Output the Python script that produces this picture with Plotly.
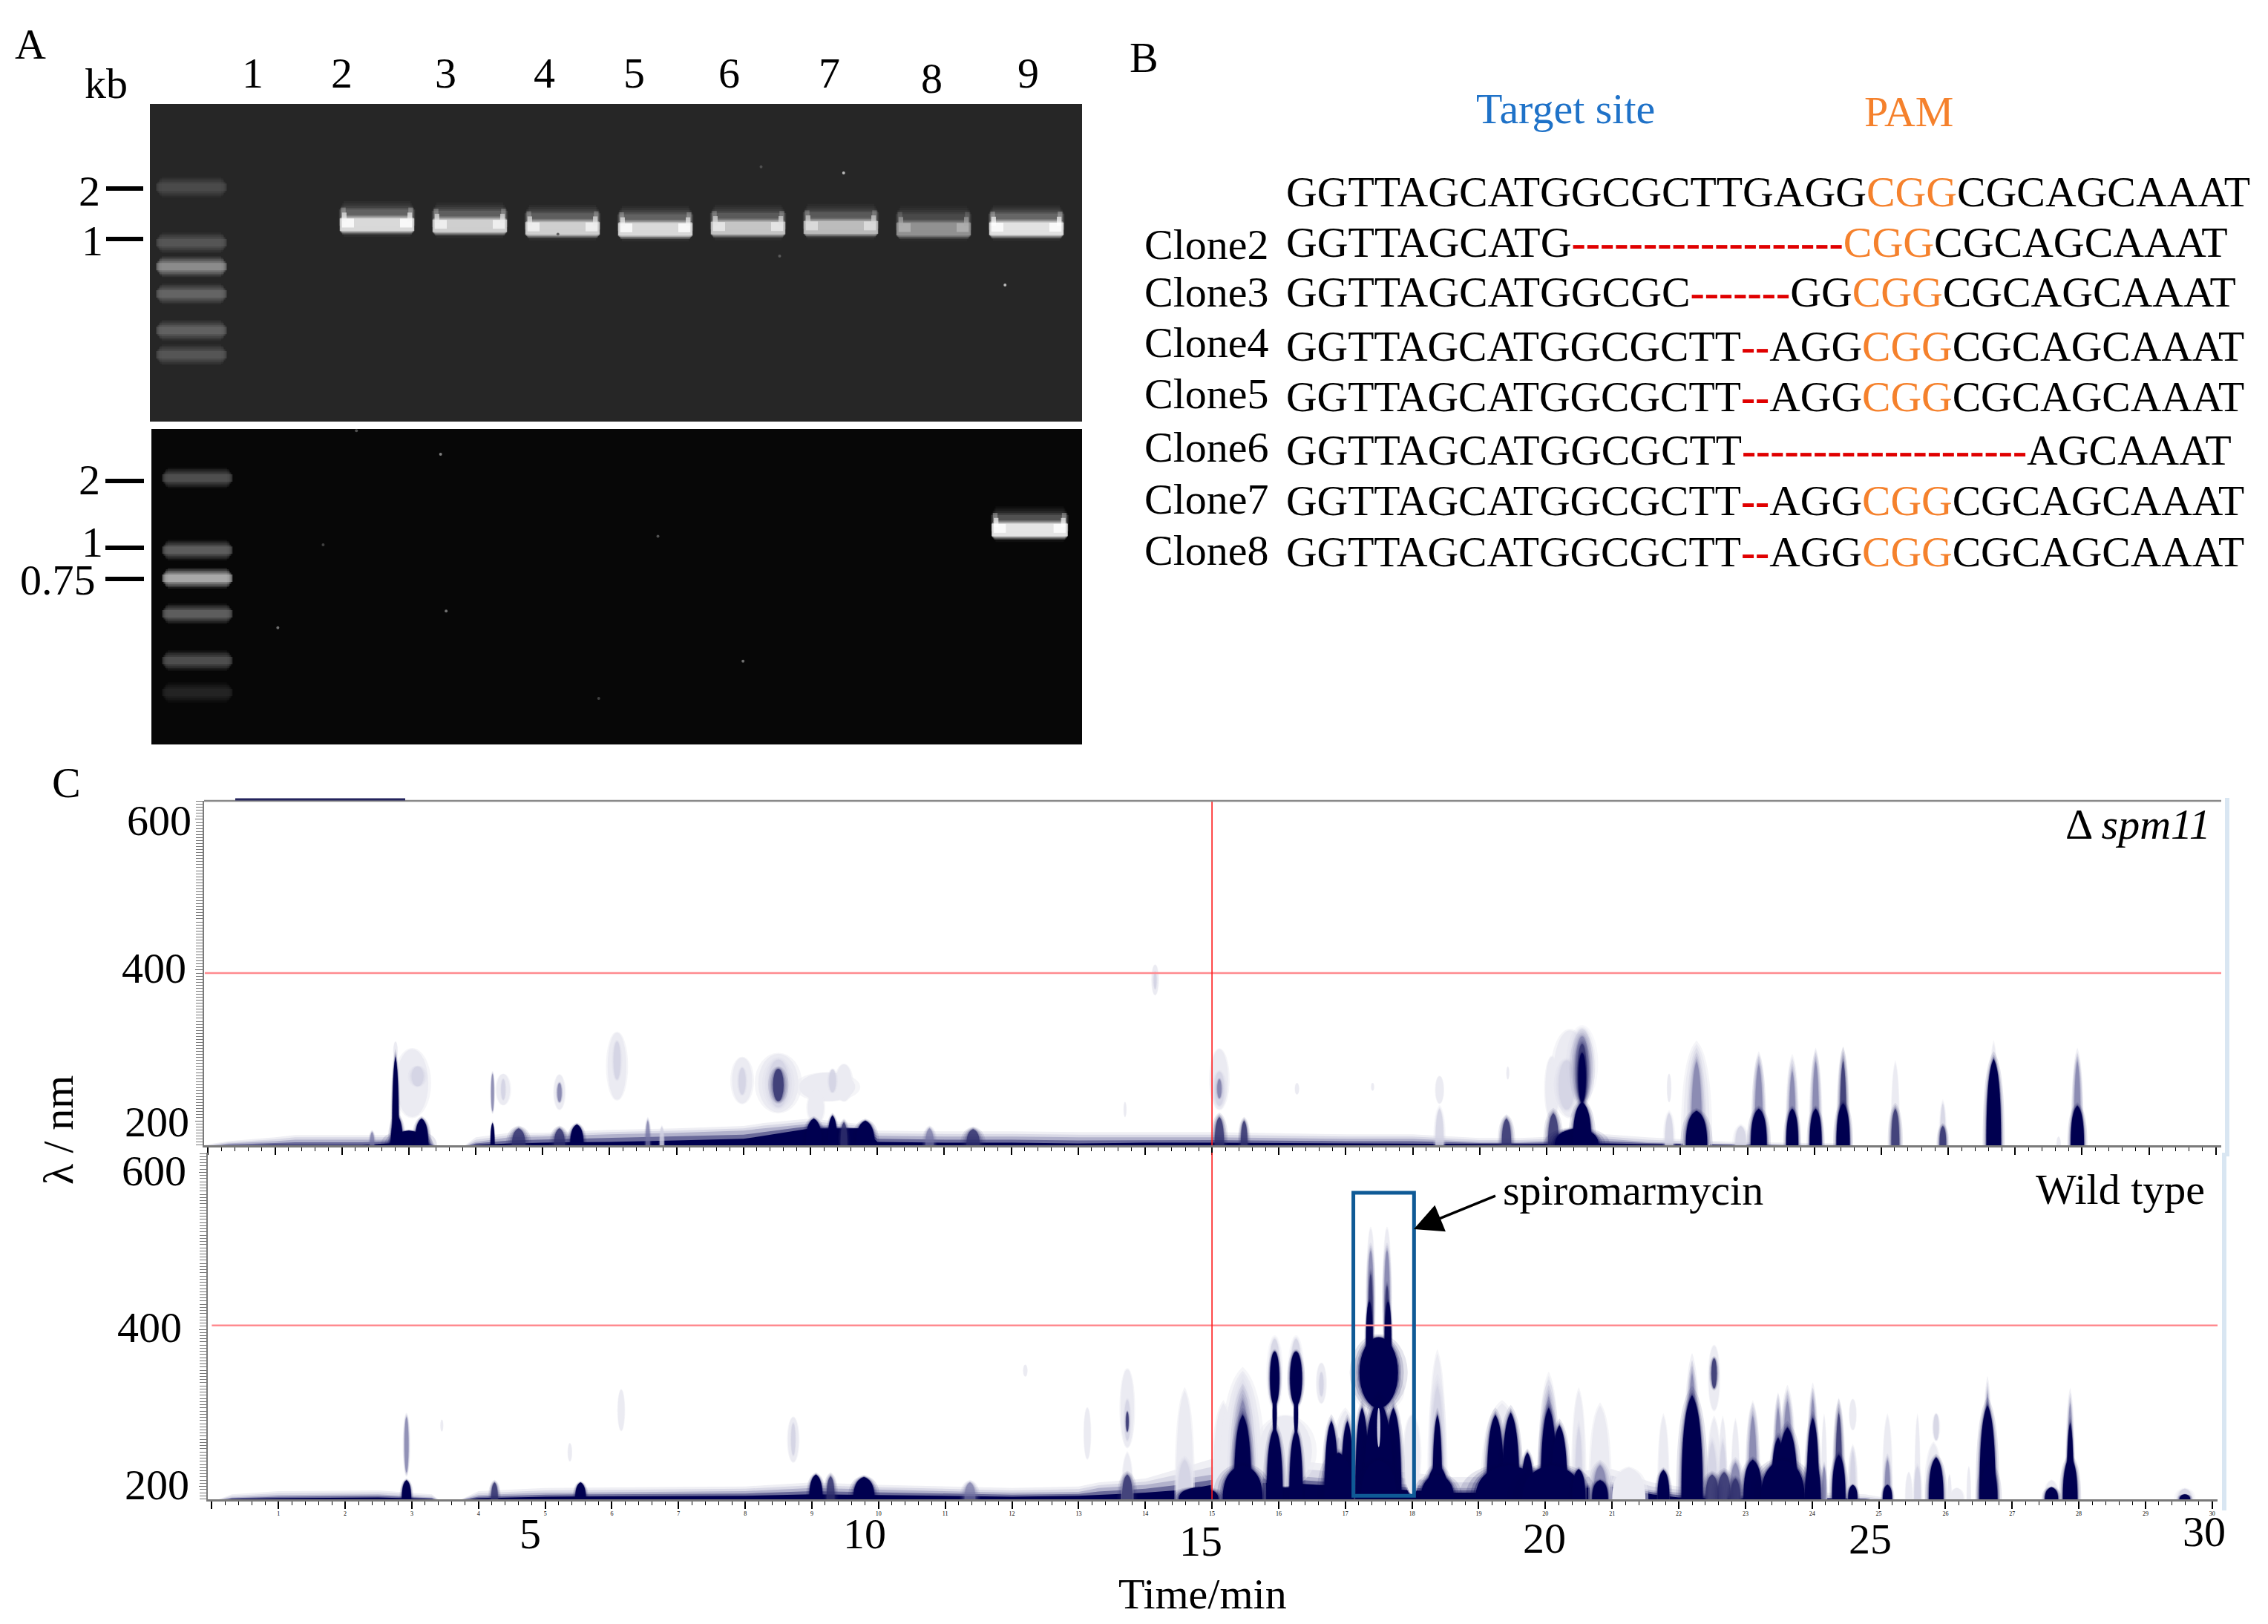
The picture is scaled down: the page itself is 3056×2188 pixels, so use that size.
import plotly.graph_objects as go

W, H = 3056, 2188
SERIF = "Liberation Serif"

# ---------- Panel A data ----------
lanes = [2, 3, 4, 5, 6, 7, 8, 9]
band_pos = [38.0, 38.4, 39.2, 39.5, 39.1, 38.9, 39.4, 39.3]
band_level = [225, 215, 215, 225, 205, 195, 150, 235]
ladder_top_pos = [26.2, 43.7, 51.2, 59.8, 71.3, 79.0]
ladder_top_level = [85, 100, 170, 120, 115, 100]
ladder_low_pos = [15.5, 38.4, 47.3, 58.6, 73.4, 83.5]
ladder_low_level = [100, 120, 215, 120, 100, 45]
low_band_lane = [9]
low_band_pos = [32.0]
low_band_level = [240]
top_ticks_pos = [26.6, 42.5]
top_ticks_text = ["2", "1"]
low_ticks_pos = [16.5, 37.6, 47.5]
low_ticks_text = ["2", "1", "0.75"]
top_speck_lane = [7.03, 8.77, 6.34, 6.14, 3.95]
top_speck_pos = [21.7, 57.0, 47.9, 19.8, 41.0]
top_speck_grey = ["#b8b8b8", "#b8b8b8", "#5a5a5a", "#505050", "#606060"]
low_speck_lane = [2.63, 0.87, 2.69, 5.90, 4.98, 1.36, 4.34, 1.72]
low_speck_pos = [8.0, 63.0, 57.7, 73.6, 34.0, 36.7, 85.4, 0.5]
low_speck_grey = ["#808080", "#707070", "#707070", "#707070", "#505050", "#404040", "#404040", "#505050"]
lane_labels = ["1", "2", "3", "4", "5", "6", "7", "8", "9"]

# ---------- Panel B data ----------
seq_rows = [
    ("", "GGTTAGCATGGCGCTTGAGG", 0, "CGG", "CGCAGCAAAT"),
    ("Clone2", "GGTTAGCATG", 19, "CGG", "CGCAGCAAAT"),
    ("Clone3", "GGTTAGCATGGCGC|GG", 7, "CGG", "CGCAGCAAAT"),
    ("Clone4", "GGTTAGCATGGCGCTT|AGG", 2, "CGG", "CGCAGCAAAT"),
    ("Clone5", "GGTTAGCATGGCGCTT|AGG", 2, "CGG", "CGCAGCAAAT"),
    ("Clone6", "GGTTAGCATGGCGCTT", 20, "", "AGCAAAT"),
    ("Clone7", "GGTTAGCATGGCGCTT|AGG", 2, "CGG", "CGCAGCAAAT"),
    ("Clone8", "GGTTAGCATGGCGCTT|AGG", 2, "CGG", "CGCAGCAAAT"),
]

# ---------- Panel C data: baseline band (time, lambda at three densities) ----------
top_base_t = [-0.05, 0.3, 1.0, 1.3, 2.3, 2.7, 3.3, 3.42, 3.8, 4.0, 4.5, 5.0, 6.0, 7.0, 8.0, 8.3, 9.0, 9.8, 10.0,
              11, 12, 13, 14, 15, 17, 18, 19, 19.6, 20.9, 21.5, 22.8, 24.4, 24.6, 30.1]
top_base_light = [168, 173, 178, 181, 181, 181, 178, 165, 165, 178, 184, 184, 188, 190, 193, 197, 203, 195, 187,
                  186, 186, 185, 185, 185, 182, 182, 177, 177, 182, 178, 172, 170, 165, 165]
top_base_mid = [166, 170, 173, 175, 175, 175, 172, 165, 165, 172, 178, 179, 182, 184, 187, 190, 196, 190, 180,
                179, 179, 178, 178, 178, 176, 176, 172, 172, 176, 172, 168, 167, 165, 165]
top_base_dark = [165, 167, 168, 168, 168, 170, 168, 165, 165, 168, 170, 171, 172, 174, 176, 180, 190, 190, 172,
                 171, 171, 170, 171, 171, 170, 170, 169, 169, 170, 169, 168, 167, 165, 165]

low_base_t = [0.05, 0.3, 1.0, 2.5, 3.3, 3.42, 3.7, 4.0, 5.0, 8.0, 9.0, 10.0, 12.0, 13.0, 13.3, 14.0, 14.6, 15.0,
              16.0, 18.6, 19.0, 21.0, 21.6, 22.0, 24.8, 25.2, 30.1]
low_base_light = [182, 190, 194, 195, 190, 182, 182, 194, 198, 200, 205, 202, 198, 200, 205, 210, 225, 235,
                  235, 212, 212, 222, 205, 200, 190, 184, 182]
low_base_mid = [182, 186, 189, 190, 186, 182, 182, 189, 192, 194, 198, 196, 192, 193, 198, 202, 210, 215,
                215, 198, 198, 205, 195, 192, 184, 182, 182]
low_base_dark = [182, 184, 185, 186, 184, 182, 182, 185, 187, 188, 190, 189, 187, 188, 189, 192, 196, 202,
                 205, 192, 192, 200, 190, 186, 184, 182, 182]

# Peaks: time, half width (min), lambda low (None = rises from the baseline), lambda high, density 0-4
top_peaks = [
    (2.45, .03, None, 185, 2), (2.80, .05, None, 285, 4), (2.82, .09, None, 207, 4), (3.0, .28, None, 187, 4),
    (3.19, .10, None, 203, 4), (3.05, .24, 205, 295, 0), (3.13, .09, 246, 272, 1), (2.80, .03, 280, 305, 0),
    (4.25, .03, None, 197, 4), (4.25, .02, 213, 262, 2), (4.41, .10, 221, 262, 0), (4.41, .03, 228, 255, 1),
    (4.64, .10, None, 190, 3), (5.25, .08, 215, 261, 0), (5.25, .03, 225, 250, 2), (5.25, .08, None, 190, 3),
    (5.51, .10, None, 195, 4), (6.11, .14, 228, 317, 0), (6.11, .05, 255, 305, 1), (6.57, .03, None, 200, 2),
    (6.78, .03, None, 192, 1), (7.98, .15, 223, 284, 0), (7.98, .05, 235, 270, 1), (8.52, .30, 211, 289, 0),
    (8.52, .15, 218, 281, 1), (8.52, .08, 226, 269, 3), (9.25, .42, 226, 264, 0), (9.08, .12, 195, 240, 0),
    (9.33, .05, 238, 268, 1), (9.50, .12, 226, 275, 0), (9.05, .12, None, 203, 4), (9.33, .07, None, 207, 4),
    (9.50, .05, None, 198, 3), (9.82, .14, None, 200, 4), (10.78, .06, None, 190, 2), (11.43, .10, None, 189, 3),
    (13.70, .02, 205, 225, 0), (14.15, .05, 367, 407, 0), (14.15, .02, 375, 398, 1),
    (15.11, .13, 215, 295, 0), (15.11, .07, 220, 265, 1), (15.11, .03, 230, 255, 2), (15.11, .07, None, 205, 3),
    (15.48, .05, None, 200, 3), (16.27, .03, 235, 250, 0), (17.4, .02, 240, 250, 0),
    (18.40, .06, 223, 259, 0), (18.40, .06, None, 216, 1), (19.40, .07, None, 203, 3), (19.42, .02, 255, 272, 0),
    (20.08, .10, 200, 285, 0), (20.35, .25, 205, 320, 0), (20.30, .12, 215, 280, 1), (20.53, .15, 230, 322, 1),
    (20.53, .10, 225, 312, 2), (20.53, .07, 223, 302, 3), (20.53, .055, 225, 290, 4),
    (20.10, .08, None, 210, 3), (20.45, .33, None, 190, 4), (20.53, .14, None, 225, 4),
    (21.83, .03, 225, 262, 0), (21.83, .06, None, 210, 1), (22.24, .20, None, 302, 0), (22.24, .08, None, 279, 2),
    (22.24, .16, None, 213, 4), (22.90, .08, None, 193, 1),
    (23.17, .10, None, 285, 0), (23.17, .06, None, 275, 2), (23.17, .12, None, 216, 4),
    (23.67, .09, None, 285, 0), (23.67, .05, None, 266, 2), (23.67, .09, None, 216, 4),
    (24.02, .09, None, 290, 0), (24.02, .05, None, 279, 2), (24.02, .09, None, 216, 4),
    (24.43, .09, None, 295, 0), (24.43, .05, None, 280, 3), (24.43, .10, None, 223, 4),
    (25.21, .06, None, 277, 0), (25.21, .06, None, 216, 3), (25.92, .04, None, 223, 1), (25.92, .05, None, 193, 3),
    (26.68, .07, None, 303, 0), (26.68, .11, None, 282, 4), (27.65, .03, None, 179, 0),
    (27.93, .08, None, 285, 0), (27.93, .05, None, 279, 2), (27.93, .10, None, 220, 4),
]

low_peaks = [
    (2.92, .03, 218, 288, 2), (2.92, .07, None, 208, 4), (3.45, .02, 270, 285, 0), (4.24, .05, None, 205, 3),
    (5.37, .03, 232, 255, 0), (5.53, .08, None, 205, 4), (6.14, .05, 271, 323, 0), (8.72, .08, 231, 288, 0),
    (8.72, .03, 240, 280, 1), (9.06, .10, None, 215, 4), (9.28, .06, None, 213, 3), (9.78, .16, None, 212, 4),
    (11.37, .08, None, 205, 2), (12.20, .03, 340, 355, 0), (13.13, .05, 235, 300, 0),
    (13.73, .10, 250, 349, 0), (13.73, .04, 259, 310, 1), (13.73, .02, 270, 295, 3), (13.73, .08, None, 243, 0),
    (13.73, .08, None, 215, 3),
    (14.59, .13, None, 322, 0), (14.59, .10, None, 234, 1), (14.8, .3, None, 199, 4),
    (15.17, .16, None, 306, 0), (15.46, .30, None, 347, 0), (15.46, .15, None, 328, 1), (15.46, .11, None, 310, 2),
    (15.46, .13, None, 291, 4), (15.46, .30, None, 227, 4),
    (16.10, .40, 200, 290, 0), (15.94, .08, 300, 388, 1), (15.94, .07, 303, 372, 4), (15.94, .03, 265, 320, 4),
    (15.94, .12, None, 275, 4),
    (16.26, .08, 300, 388, 1), (16.26, .09, 303, 372, 4), (16.26, .03, 265, 320, 4), (16.26, .10, None, 272, 4),
    (16.64, .07, 306, 357, 0), (16.64, .03, 315, 345, 1), (17.00, .20, None, 297, 0),
    (16.79, .10, None, 283, 4), (17.03, .09, None, 283, 4), (16.90, .22, None, 243, 4), (16.90, .03, 245, 262, 1),
    (18.00, .12, 190, 290, 0), (17.38, .06, 360, 528, 0), (17.625, .06, 360, 528, 0),
    (17.38, .04, 375, 500, 2), (17.625, .04, 375, 500, 2), (17.38, .028, 375, 470, 3), (17.625, .028, 375, 455, 3),
    (17.50, .33, 295, 350, 0), (17.36, .05, 340, 435, 4), (17.64, .05, 340, 435, 4),
    (17.50, .29, 300, 390, 4), (17.25, .10, None, 300, 4), (17.72, .12, None, 300, 4), (17.50, .22, None, 310, 4),
    (17.50, .27, None, 234, 4),
    (18.38, .12, None, 369, 0), (18.38, .10, None, 328, 1), (18.38, .07, None, 291, 4), (18.38, .16, None, 227, 4),
    (18.38, .25, None, 215, 4),
    (19.35, .28, None, 306, 0), (19.25, .13, None, 291, 4), (19.48, .13, None, 294, 4), (19.73, .09, None, 243, 4),
    (19.45, .50, None, 227, 4),
    (20.05, .14, None, 341, 0), (20.05, .09, None, 315, 2), (20.05, .12, None, 300, 4), (20.21, .12, None, 278, 4),
    (20.10, .45, None, 227, 4), (20.50, .10, None, 322, 0), (20.50, .05, None, 275, 1), (20.50, .10, None, 222, 4),
    (20.82, .15, None, 303, 0), (20.82, .10, None, 227, 2), (20.82, .12, None, 208, 4), (21.25, .25, None, 224, 0),
    (21.77, .08, None, 290, 0), (21.77, .09, None, 221, 4),
    (22.53, .10, None, 287, 0), (22.20, .10, None, 354, 0), (22.20, .07, None, 344, 2), (22.20, .16, None, 316, 4),
    (22.53, .08, 297, 379, 0), (22.53, .04, 325, 363, 3), (22.50, .07, None, 256, 1), (22.50, .10, None, 215, 3),
    (22.66, .06, None, 287, 0), (22.66, .05, None, 256, 1), (22.68, .10, None, 218, 3), (22.85, .06, None, 284, 0),
    (22.85, .08, None, 230, 2), (22.85, .07, None, 210, 3),
    (23.11, .10, None, 306, 0), (23.11, .06, None, 290, 2), (23.11, .14, None, 234, 4),
    (23.49, .07, None, 316, 0), (23.49, .05, None, 300, 2), (23.49, .10, None, 262, 4),
    (23.63, .10, None, 320, 0), (23.63, .07, None, 309, 2), (23.63, .15, None, 275, 4), (23.56, .33, None, 234, 4),
    (24.01, .08, None, 322, 0), (24.01, .05, None, 312, 2), (24.01, .09, None, 287, 4), (24.01, .12, None, 234, 4),
    (24.18, .04, None, 290, 0), (24.18, .03, None, 225, 2),
    (24.40, .09, None, 309, 0), (24.40, .05, None, 294, 3), (24.40, .10, None, 240, 4),
    (24.61, .05, 272, 311, 0), (24.61, .07, None, 252, 0), (24.61, .04, None, 245, 1), (24.61, .07, None, 202, 4),
    (25.13, .07, None, 290, 0), (25.13, .04, None, 234, 2), (25.13, .07, None, 202, 4),
    (25.45, .05, None, 218, 0), (25.58, .04, None, 290, 0), (25.58, .05, None, 225, 1),
    (25.82, .12, None, 255, 0), (25.86, .04, 259, 292, 1), (25.86, .11, None, 237, 4),
    (26.06, .03, None, 215, 0), (26.17, .10, None, 198, 0), (26.35, .03, None, 225, 0),
    (26.63, .04, None, 319, 2), (26.63, .12, None, 303, 4), (26.65, .13, None, 228, 4),
    (27.59, .10, None, 208, 0), (27.59, .10, None, 199, 4),
    (27.87, .04, None, 306, 2), (27.87, .05, None, 281, 4), (27.87, .11, None, 237, 4),
    (29.59, .10, None, 197, 1), (29.59, .08, None, 190, 4),
]
low_gaps = [(17.50, .025, 250, 300)]

guide_t = 15
top_guide_l = 396
low_guide_l = 405
box_t = [17.12, 18.03]
box_l = [188, 574]
lam_ticks = [200, 400, 600]
lam_text = ["200", "400", "600"]
big_time_labels = ["5", "10", "15", "20", "25", "30"]
minute_ticks = list(range(0, 31))
minute_text = [""] + [str(m) for m in range(1, 31)]

DENS = ["#ebebf2", "#d2d2e2", "#7272a2", "#2e2e6c", "#000050"]
HALO = [[(1.18, .5)],
        [(1.6, .15), (1.35, .2), (1.15, .3)],
        [(1.9, .10), (1.6, .14), (1.35, .18), (1.15, .25)],
        [(1.9, .10), (1.6, .14), (1.35, .18), (1.15, .25)],
        [(1.5, .10), (1.3, .14), (1.16, .2), (1.07, .35)]]
CORE = [1, .7, .55, .75, 1]


def fx(px):
    return px / W


def fy(py):
    return 1 - py / H


fig = go.Figure()
shapes = []
ann = []


def label(px, py, text, size=58, xa="left", color="black", angle=0):
    ann.append(dict(x=fx(px), y=fy(py - 3), xref="paper", yref="paper", text=text, showarrow=False, xanchor=xa,
                    yanchor="middle", textangle=angle, borderpad=0, borderwidth=0,
                    font=dict(family=SERIF, size=size, color=color)))


def grey(v, a=1.0):
    return f"rgba({v},{v},{v},{a})"


def seg(xa, ya, x0, x1, y, w, col):
    fig.add_trace(go.Scatter(x=[x0, x1], y=[y, y], xaxis=xa, yaxis=ya, mode="lines", line=dict(width=w, color=col),
                             hoverinfo="skip", showlegend=False))


def gel_band(xa, ya, lane, pos, level, half=0.39):
    for w, ins, dy, a in [(48, -.03, -1.8, .04), (42, -.015, -1.8, .05), (36, 0, -1.8, .07),
                          (30, .01, -1.8, .10), (22, .02, -2.2, .12)]:
        seg(xa, ya, lane - half - ins, lane + half + ins, pos + dy, w, grey(level, a))
    for w, ins, a in [(26, -.015, .18), (23, -.005, .28), (20, .005, .45), (17, .012, .8)]:
        seg(xa, ya, lane - half - ins, lane + half + ins, pos, w, grey(level, a))
    for sx in (-1, 1):
        e = lane + sx * (half - .012)
        seg(xa, ya, e, e - sx * .13, pos - .5, 12, grey(min(255, level + 30), .8))
        seg(xa, ya, e, e - sx * .05, pos - 2.4, 12, grey(min(255, level + 20), .65))
        seg(xa, ya, e + sx * .01, e - sx * .04, pos - 4.0, 12, grey(level, .3))


def ladder(xa, ya, lane0, positions, levels):
    for p, lv in zip(positions, levels):
        for w, ins, a in [(28, -.03, .10), (24, -.01, .16), (20, .0, .22), (15, .015, .3), (10, .03, .45)]:
            seg(xa, ya, lane0 - .35 - ins, lane0 + .35 + ins, p, w, grey(lv, a))


# ---------- Gels ----------
ladder("x", "y", 0, ladder_top_pos, ladder_top_level)
for l, p, lv in zip(lanes, band_pos, band_level):
    gel_band("x", "y", l, p, lv)
fig.add_trace(go.Scatter(x=top_speck_lane, y=top_speck_pos, xaxis="x", yaxis="y", mode="markers",
                         marker=dict(size=4, color=top_speck_grey), hoverinfo="skip", showlegend=False))
ladder("x2", "y2", 0, ladder_low_pos, ladder_low_level)
for l, p, lv in zip(low_band_lane, low_band_pos, low_band_level):
    gel_band("x2", "y2", l, p, lv, half=.40)
fig.add_trace(go.Scatter(x=low_speck_lane, y=low_speck_pos, xaxis="x2", yaxis="y2", mode="markers",
                         marker=dict(size=4, color=low_speck_grey), hoverinfo="skip", showlegend=False))


# ---------- Chromatograms ----------
def base_traces(xa, ya, t, light, mid, dark):
    between_a = [(a + b) / 2 for a, b in zip(light, mid)]
    between_b = [(a + b) / 2 for a, b in zip(mid, dark)]
    for arr, col in [(light, "#efeff4"), (between_a, "#d9d9e6"), (mid, "#b2b2cc"), (between_b, "#6a6a9a"),
                     (dark, "#000050")]:
        fig.add_trace(go.Scatter(x=t, y=arr, xaxis=xa, yaxis=ya, mode="lines", fill="tozeroy", fillcolor=col,
                                 line=dict(width=0), hoverinfo="skip", showlegend=False))


base_traces("x3", "y3", top_base_t, top_base_light, top_base_mid, top_base_dark)
base_traces("x4", "y4", low_base_t, low_base_light, low_base_mid, low_base_dark)


def spire(t, hw, floor, hi):
    h = hi - floor
    return (f"M {t - hw},{floor - 5} L {t - hw},{floor} "
            f"C {t - hw},{floor + .72 * h} {t - .5 * hw},{floor + .92 * h} {t},{hi} "
            f"C {t + .5 * hw},{floor + .92 * h} {t + hw},{floor + .72 * h} {t + hw},{floor} "
            f"L {t + hw},{floor - 5} Z")


def peak_shapes(peaks, xa, ya, floor):
    for lvl in range(5):
        for t, hw, lo, hi, d in peaks:
            if d != lvl:
                continue
            layers = HALO[d] + [(1.0, CORE[d])]
            for grow, alpha in layers:
                if lo is None:
                    top = floor + (hi - floor) * (1 + (grow - 1) * .18)
                    shapes.append(dict(type="path", xref=xa, yref=ya, path=spire(t, hw * grow, floor, top),
                                       fillcolor=DENS[d], opacity=alpha, line=dict(width=0)))
                else:
                    c, half = (hi + lo) / 2, (hi - lo) / 2 * (1 + (grow - 1) * .18)
                    shapes.append(dict(type="circle", xref=xa, yref=ya, x0=t - hw * grow, x1=t + hw * grow,
                                       y0=c - half, y1=c + half, fillcolor=DENS[d], opacity=alpha,
                                       line=dict(width=0)))


FLOOR_TOP, FLOOR_LOW = 167.5, 183.6
peak_shapes(top_peaks, "x3", "y3", FLOOR_TOP)
peak_shapes(low_peaks, "x4", "y4", FLOOR_LOW)
for t, hw, lo, hi in low_gaps:
    shapes.append(dict(type="circle", xref="x4", yref="y4", x0=t - hw, x1=t + hw, y0=lo, y1=hi,
                       fillcolor="#c9c9dc", line=dict(width=0)))

# guides
for xa, ya, l, lo, hi in [("x3", "y3", top_guide_l, -0.05, 30.1), ("x4", "y4", low_guide_l, 0, 30.1)]:
    shapes.append(dict(type="line", xref=xa, yref=ya, x0=lo, x1=hi, y0=l, y1=l, line=dict(color="#ff8a8f", width=2.5)))
shapes.append(dict(type="line", xref="x3", yref="y3 domain", x0=guide_t, x1=guide_t, y0=0, y1=1,
                   line=dict(color="#ff1a1a", width=1.6)))
shapes.append(dict(type="line", xref="x4", yref="y4 domain", x0=guide_t, x1=guide_t, y0=0, y1=1,
                   line=dict(color="#ff1a1a", width=1.6)))
shapes.append(dict(type="rect", xref="x4", yref="y4", x0=box_t[0], x1=box_t[1], y0=box_l[0], y1=box_l[1],
                   line=dict(color="#0f5a96", width=5), fillcolor="rgba(0,0,0,0)"))
# frame details of the original screenshot
shapes.append(dict(type="line", xref="paper", yref="paper", x0=fx(275), x1=fx(2993), y0=fy(1079), y1=fy(1079),
                   line=dict(color="#8a8a8a", width=2.5)))
shapes.append(dict(type="line", xref="paper", yref="paper", x0=fx(317), x1=fx(546), y0=fy(1077), y1=fy(1077),
                   line=dict(color="#24245c", width=3)))
shapes.append(dict(type="line", xref="paper", yref="paper", x0=fx(3001), x1=fx(3001), y0=fy(1075), y1=fy(1558),
                   line=dict(color="#d9e6f2", width=6)))
shapes.append(dict(type="line", xref="paper", yref="paper", x0=fx(2997), x1=fx(2997), y0=fy(1553), y1=fy(2035),
                   line=dict(color="#d9e6f2", width=6)))

# ---------- Text ----------
label(20, 62, "A")
label(114, 115, "kb")
for s, px in zip(lane_labels, [340, 461, 600, 733, 855, 982, 1117, 1255, 1385]):
    label(px, 102 if s != "8" else 108, s, xa="center")
label(1522, 80, "B")
label(1989, 150, "Target site", color="#1f72c8")
label(2512, 153, "PAM", color="#f5812c")
RED = "#e00000"
ORANGE = "#f5812c"
for row, py, cy, sz in zip(seq_rows, [261, 330, 397, 469, 537, 610, 677, 746], [0, 332, 397, 465, 533, 605, 676, 745],
                           [57.8, 57.9, 57.8, 57.6, 57.6, 57.7, 57.6, 57.6]):
    name, left, dashes, pam, right = row
    a, _, b = left.partition("|")
    txt = a
    if dashes:
        txt += f'<span style="color:{RED}"><b>{"-" * dashes}</b></span>'
    txt += b
    if pam:
        txt += f'<span style="color:{ORANGE}">{pam}</span>'
    txt += right
    label(1733, py, txt, size=sz)
    if name:
        label(1542, cy, name)
label(70, 1057, "C")
label(78, 1526, "λ / nm", angle=-90, xa="center")
for s, px, py in zip(big_time_labels, [714, 1165, 1618, 2081, 2520, 2970], [2069, 2069, 2079, 2075, 2076, 2066]):
    label(px, py, s, xa="center")
label(1620, 2150, "Time/min", xa="center")
label(2783, 1113, "Δ <i>spm11</i>")
label(2743, 1605, "Wild type")
label(2025, 1606, "spiromarmycin")
ann.append(dict(x=fx(1905), y=fy(1656), xref="paper", yref="paper", ax=113, ay=-46, text=" ", showarrow=True,
                arrowhead=2, arrowsize=2.2, arrowwidth=3.5, arrowcolor="black", standoff=0))
# gel size labels
for s, px, py in zip(top_ticks_text, [120, 124], [260, 328]):
    label(px, py, s, xa="center")
for s, px, py in zip(low_ticks_text, [121, 124, 129], [650, 733, 785]):
    label(px, py, s, xa="center" if s != "0.75" else "right")
# wavelength labels
for s, px, py in zip(lam_text, [255, 251, 258], [1514, 1307, 1108]):
    label(px, py, s, xa="right")
for s, px, py in zip(lam_text, [255, 245, 251], [2003, 1791, 1580]):
    label(px, py, s, xa="right")


def dom_x(a, b):
    return [a / W, b / W]


def dom_y(top, bottom):
    return [1 - bottom / H, 1 - top / H]


gel_x = dict(showgrid=False, zeroline=False, showticklabels=False, ticks="", showline=False, fixedrange=True)
t_axis = dict(range=[-0.06, 30.08], tickmode="array", tickvals=minute_ticks, ticks="outside", ticklen=10, tickwidth=1.5,
              tickcolor="black", showgrid=False, zeroline=False, showline=True, linecolor="#7a7a7a", linewidth=2.5,
              minor=dict(dtick=.2, tick0=0, ticks="outside", ticklen=5, tickwidth=1.2, tickcolor="black", showgrid=False))
l_axis = dict(tickmode="array", tickvals=lam_ticks, ticktext=lam_text, showticklabels=False, ticks="outside", ticklen=10,
              tickwidth=1.2, tickcolor="#666666", showgrid=False, zeroline=False, showline=True,
              linecolor="#7a7a7a", linewidth=2,
              minor=dict(dtick=4, tick0=0, ticks="outside", ticklen=9, tickwidth=1.2, tickcolor="#777777", showgrid=False))

fig.update_layout(
    width=W, height=H, margin=dict(l=0, r=0, t=0, b=0, pad=0, autoexpand=False), paper_bgcolor="white",
    plot_bgcolor="white", showlegend=False, font=dict(family=SERIF, color="black"),
    shapes=shapes, annotations=ann,
    xaxis=dict(gel_x, domain=dom_x(202, 1458), range=[-0.448, 9.6], anchor="y"),
    yaxis=dict(domain=dom_y(140, 568), range=[100, 0], anchor="free", position=fx(193), showgrid=False, zeroline=False,
               showline=False, tickmode="array", tickvals=top_ticks_pos, ticktext=top_ticks_text, showticklabels=False,
               ticks="outside", ticklen=50, tickwidth=6, tickcolor="black"),
    xaxis2=dict(gel_x, domain=dom_x(204, 1458), range=[-0.497, 9.566], anchor="y2"),
    yaxis2=dict(domain=dom_y(578, 1003), range=[100, 0], anchor="free", position=fx(194), showgrid=False, zeroline=False,
                showline=False, tickmode="array", tickvals=low_ticks_pos, ticktext=low_ticks_text, showticklabels=False,
                ticks="outside", ticklen=52, tickwidth=6, tickcolor="black"),
    xaxis3=dict(t_axis, domain=dom_x(275, 2993), anchor="y3", showticklabels=False),
    yaxis3=dict(l_axis, domain=dom_y(1079, 1543), range=[167.5, 624.6], anchor="x3"),
    xaxis4=dict(t_axis, ticktext=minute_text, domain=dom_x(280, 2988), anchor="y4", showticklabels=True,
                tickfont=dict(family=SERIF, size=8)),
    yaxis4=dict(l_axis, domain=dom_y(1553, 2020), range=[183.6, 625], anchor="x4"),
)
fig.add_shape(type="rect", xref="x domain", yref="y domain", x0=0, x1=1, y0=0, y1=1, fillcolor="#262626",
              line=dict(width=0), layer="below")
fig.add_shape(type="rect", xref="x2 domain", yref="y2 domain", x0=0, x1=1, y0=0, y1=1, fillcolor="#070707",
              line=dict(width=0), layer="below")

fig.write_html("out.html", config={"displayModeBar": False},
               post_script="document.body.style.margin='0';document.documentElement.style.overflow='hidden';")
